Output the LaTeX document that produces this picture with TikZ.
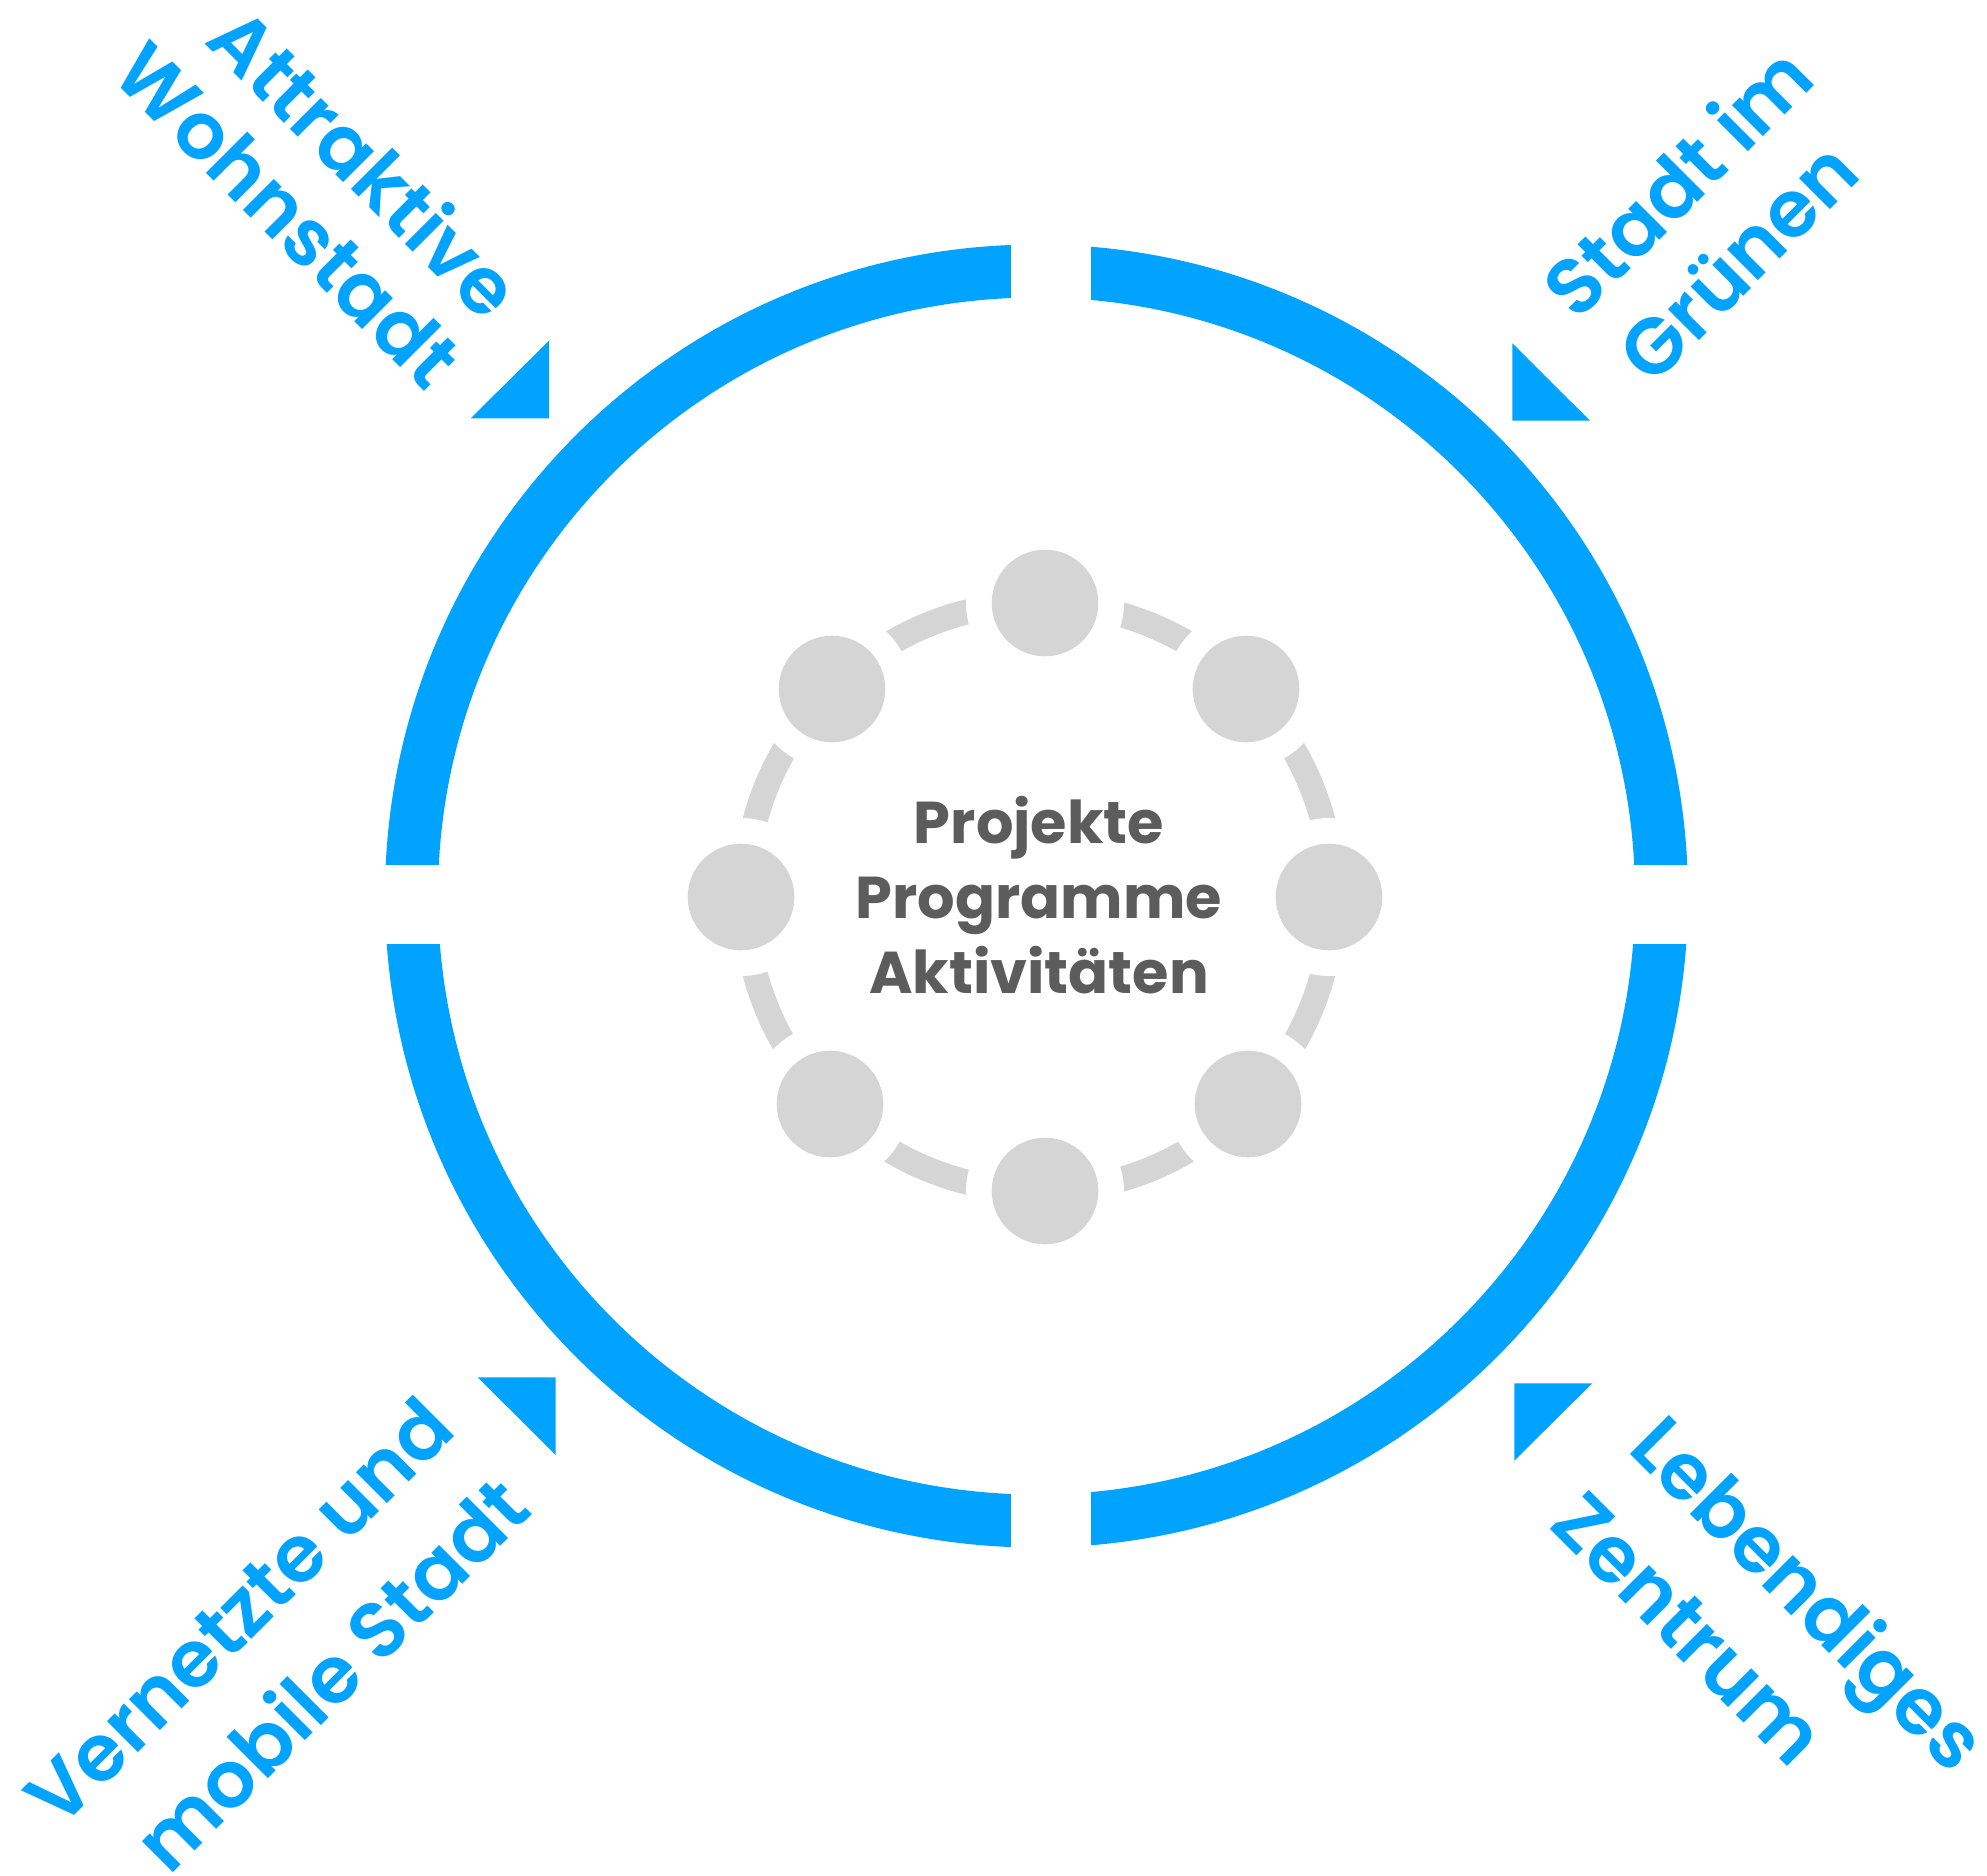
\documentclass[tikz,border=0pt]{standalone}
\usepackage{fontspec}
\setmainfont{Poppins}
\newfontfamily\popsemi{Poppins SemiBold}
\usetikzlibrary{calc}
\definecolor{cblue}{RGB}{0,163,255}
\definecolor{cgray}{RGB}{213,213,213}
\definecolor{ctext}{RGB}{92,92,92}
\tikzset{
  lbl/.style={text=cblue, font=\popsemi\fontsize{79}{90}\selectfont, inner sep=0pt, anchor=mid},
  ctr/.style={text=ctext, font=\fontsize{59}{75}\selectfont\bfseries, inner sep=0pt, anchor=base},
  dot/.style={circle, fill=cgray, draw=none, minimum size=106.6pt, inner sep=0pt},
  halo/.style={circle, fill=white, draw=none, minimum size=158pt, inner sep=0pt},
  tri/.style={fill=cblue, draw=none}
}
\begin{document}
\begin{tikzpicture}[x=1pt,y=-1pt]
\useasboundingbox (0,0) rectangle (1987,1876);
\fill[white] (0,0) rectangle (1987,1876);
\coordinate (B) at (1036.5,896);
\coordinate (C) at (1039,897);
% blue ring
\draw[cblue, line width=53pt] (B) circle (625pt);
\fill[white] (1011,200) rectangle (1091,330);
\fill[white] (1011,1460) rectangle (1091,1600);
\fill[white] (330,865) rectangle (470,944);
\fill[white] (1600,865) rectangle (1740,944);
% triangles
\fill[tri] (470.7,418.3) -- (549,418.3) -- (549,340.7) -- cycle;
\fill[tri] (1512.3,343.3) -- (1512.3,420.7) -- (1590,420.7) -- cycle;
\fill[tri] (477.7,1377.3) -- (555.7,1377.3) -- (555.7,1455) -- cycle;
\fill[tri] (1514.3,1383.3) -- (1592.3,1383.3) -- (1514.3,1460.7) -- cycle;
% gray dashed ring
\draw[cgray, line width=25pt] (C) circle (294pt);
\foreach \p/\n in {{(1045,603)}/1,{(1246,689)}/2,{(1329,897)}/3,{(1248,1104)}/4,{(1045,1191)}/5,{(830,1104)}/6,{(741,897)}/7,{(832,689)}/8}{
  \node[halo] (h\n) at \p {};
}
\foreach \p/\n in {{(1045,603)}/1,{(1246,689)}/2,{(1329,897)}/3,{(1248,1104)}/4,{(1045,1191)}/5,{(830,1104)}/6,{(741,897)}/7,{(832,689)}/8}{
  \node[dot] (d\n) at \p {};
}
% center text
\node[ctr] (t1) at (1039,843) {Projekte};
\node[ctr] (t2) at (1039,918) {Programme};
\node[ctr] (t3) at (1039,993) {Aktivitäten};
% labels
\node[lbl, rotate=-45] (a1) at (346,181) {Attraktive};
\node[lbl, rotate=-45] (a2) at (270,233) {Wohnstadt};
\node[lbl, rotate=45] (b1) at (1696,200) {Stadt im};
\node[lbl, rotate=45] (b2) at (1756,280) {Grünen};
\node[lbl, rotate=45] (c1) at (257,1630) {Vernetzte und};
\node[lbl, rotate=45] (c2) at (350,1693) {mobile Stadt};
\node[lbl, rotate=-45] (e1) at (1791,1611) {Lebendiges};
\node[lbl, rotate=-45] (e2) at (1671,1646) {Zentrum};
\end{tikzpicture}
\end{document}
